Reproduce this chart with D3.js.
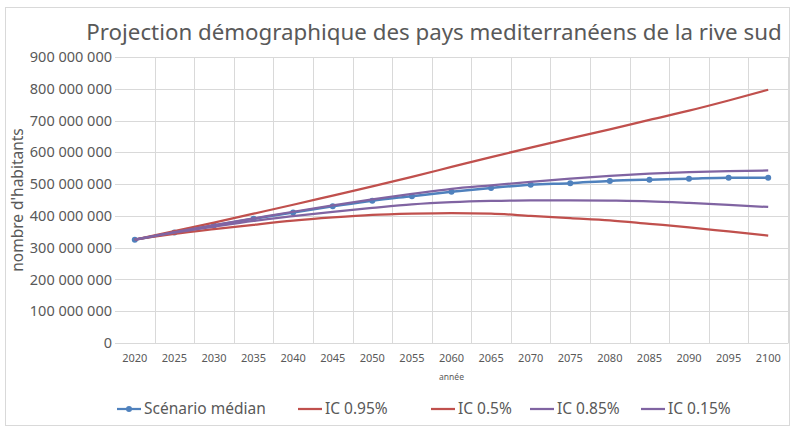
<!DOCTYPE html>
<html>
<head>
<meta charset="utf-8">
<script src="https://cdn.jsdelivr.net/npm/d3@7"></script>
<style>
  body { margin: 0; background: #fff; }
  text { font-family: "Noto Sans", "Open Sans", sans-serif; fill: #595959; }
</style>
</head>
<body>
<script>
// years on the category axis
var years = [2020, 2025, 2030, 2035, 2040, 2045, 2050, 2055, 2060, 2065, 2070, 2075, 2080, 2085, 2090, 2095, 2100];

// population, in millions
var median = [325, 348, 370, 391, 411, 430, 448, 462, 476, 488, 498, 503, 510, 514, 517, 520, 520];
var ic95 = [325, 352, 379, 407, 435, 464, 493, 523, 554, 585, 615, 644, 672, 702, 731, 763, 797];
var ic50 = [325, 343, 358, 372, 385, 395, 403, 407, 409, 407, 400, 393, 386, 375, 364, 351, 338];
var ic85 = [325, 349, 371, 392, 413, 433, 452, 469, 485, 496, 507, 517, 526, 533, 538, 541, 543];
var ic15 = [325, 347, 366, 384, 399, 413, 425, 436, 443, 447, 449, 449, 448, 446, 441, 435, 428];

var yTicks = [0, 100, 200, 300, 400, 500, 600, 700, 800, 900];

var series = [
    { name: "Scénario médian", values: median, color: "#4F81BD", marker: true },
    { name: "IC 0.95%", values: ic95, color: "#C0504D" },
    { name: "IC 0.5%", values: ic50, color: "#C0504D" },
    { name: "IC 0.85%", values: ic85, color: "#8064A2" },
    { name: "IC 0.15%", values: ic15, color: "#8064A2" }
];

var W = 795, H = 429;
var margin = { top: 57, right: 7, bottom: 86, left: 115 };
var width = W - margin.left - margin.right,
    height = H - margin.top - margin.bottom;

var svg = d3.select("body").append("svg")
    .attr("width", W)
    .attr("height", H);

// chart border
svg.append("rect")
    .attr("x", 5.5).attr("y", 7.5)
    .attr("width", 784).attr("height", 418)
    .attr("fill", "none")
    .attr("stroke", "#d9d9d9");

svg.append("text")
    .attr("x", 434)
    .attr("y", 40)
    .attr("text-anchor", "middle")
    .style("font-size", "22.3px")
    .text("Projection démographique des pays mediterranéens de la rive sud");

var g = svg.append("g")
    .attr("transform", "translate(" + margin.left + "," + margin.top + ")");

var x = d3.scaleBand()
    .domain(years)
    .range([0, width]);

var y = d3.scaleLinear()
    .domain([0, 900])
    .range([height, 0]);

var fmt = function (d) {
    return d === 0 ? "0" : d3.format(",")(d * 1e6).replace(/,/g, " ");
};

// horizontal grid
g.selectAll(".hgrid")
    .data(yTicks)
    .enter().append("line")
    .attr("x1", 0).attr("x2", width)
    .attr("y1", function (d) { return Math.round(y(d)) + 0.5; })
    .attr("y2", function (d) { return Math.round(y(d)) + 0.5; })
    .attr("stroke", "#d9d9d9");

// vertical grid at category boundaries
g.selectAll(".vgrid")
    .data(years.slice(1).concat(["end"]))
    .enter().append("line")
    .attr("x1", function (d, i) { return Math.round(x.step() * (i + 1)) + 0.5; })
    .attr("x2", function (d, i) { return Math.round(x.step() * (i + 1)) + 0.5; })
    .attr("y1", 0).attr("y2", height)
    .attr("stroke", "#d9d9d9");

// y axis
var yAxis = d3.axisLeft(y).tickValues(yTicks).tickFormat(fmt).tickSize(0).tickPadding(3);
g.append("g")
    .attr("class", "y axis")
    .call(yAxis)
    .call(function (s) {
        s.select(".domain").remove();
        s.selectAll("text").style("font-size", "14.5px").attr("fill", "#595959");
    });

// x axis
var xAxis = d3.axisBottom(x).tickSize(0).tickPadding(11);
g.append("g")
    .attr("class", "x axis")
    .attr("transform", "translate(0," + height + ")")
    .call(xAxis)
    .call(function (s) {
        s.select(".domain").attr("stroke", "#d9d9d9");
        s.selectAll("text").style("font-size", "11px").attr("fill", "#595959");
    });

svg.append("text")
    .attr("x", margin.left + width / 2)
    .attr("y", 380)
    .attr("text-anchor", "middle")
    .style("font-size", "8.5px")
    .text("année");

svg.append("text")
    .attr("transform", "translate(23,200) rotate(-90)")
    .attr("text-anchor", "middle")
    .style("font-size", "15.5px")
    .text("nombre d'habitants");

var line = d3.line()
    .x(function (d, i) { return x(years[i]) + x.bandwidth() / 2; })
    .y(function (d) { return y(d); })
    .curve(d3.curveMonotoneX);

series.forEach(function (s) {
    g.append("path")
        .datum(s.values)
        .attr("fill", "none")
        .attr("stroke", s.color)
        .attr("stroke-width", s.marker ? 2.5 : 2.25)
        .attr("d", line);
    if (s.marker) {
        g.selectAll(".dot")
            .data(s.values)
            .enter().append("circle")
            .attr("class", "dot")
            .attr("r", 3)
            .attr("cx", function (d, i) { return x(years[i]) + x.bandwidth() / 2; })
            .attr("cy", function (d) { return y(d); })
            .attr("fill", s.color);
    }
});

// legend
var legendX = [117, 298, 431, 530, 641];
var legend = svg.append("g").attr("transform", "translate(0,409)");
series.forEach(function (s, i) {
    var item = legend.append("g").attr("transform", "translate(" + legendX[i] + ",0)");
    item.append("line")
        .attr("x1", 0).attr("x2", 24)
        .attr("y1", 0).attr("y2", 0)
        .attr("stroke", s.color)
        .attr("stroke-width", 2.25);
    if (s.marker) {
        item.append("circle").attr("cx", 12).attr("cy", 0).attr("r", 3).attr("fill", s.color);
    }
    item.append("text")
        .attr("x", 27)
        .attr("y", 0)
        .attr("dy", "0.35em")
        .style("font-size", "15.5px")
        .text(s.name);
});
</script>
</body>
</html>
